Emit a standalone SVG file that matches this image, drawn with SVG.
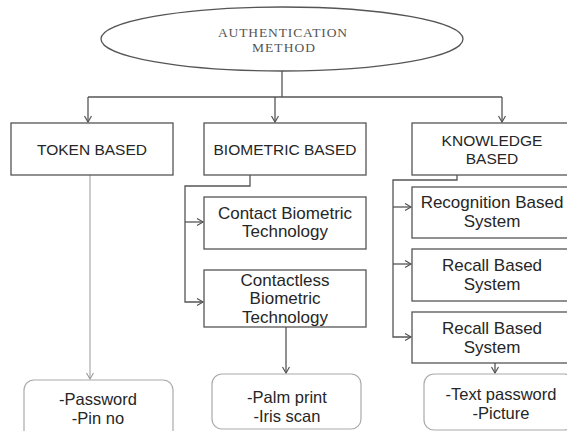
<svg xmlns="http://www.w3.org/2000/svg" width="567" height="431" viewBox="0 0 567 431">
<defs>
<style>
.box{fill:#fff;stroke:#555;stroke-width:1.3}
.rbox{fill:#fff;stroke:#aaa;stroke-width:1.2}
.t{font-family:"Liberation Sans",Arial,sans-serif;font-size:17px;fill:#262626;text-anchor:middle}
.c{font-size:15.5px}
.b{font-size:16.5px}
.s{font-family:"Liberation Serif","Times New Roman",serif;font-size:13.5px;fill:#555;text-anchor:middle}
.ln{fill:none;stroke:#555;stroke-width:1.3}
.lg{fill:none;stroke:#999;stroke-width:1}
</style>
<marker id="a" markerWidth="10" markerHeight="10" refX="7" refY="4" orient="auto" markerUnits="userSpaceOnUse">
<path d="M1,0.5 L7,4 L1,7.5" fill="none" stroke="#555" stroke-width="1.2"/>
</marker>
<marker id="ag" markerWidth="10" markerHeight="10" refX="7" refY="4" orient="auto" markerUnits="userSpaceOnUse">
<path d="M1,0.5 L7,4 L1,7.5" fill="none" stroke="#999" stroke-width="1.1"/>
</marker>
</defs>
<rect width="567" height="431" fill="#fff"/>
<g id="connectors">
<path class="ln" d="M282,71 V97"/>
<path class="ln" d="M88,97 H502"/>
<path class="ln" d="M88,97 V122" marker-end="url(#a)"/>
<path class="ln" d="M275,97 V122" marker-end="url(#a)"/>
<path class="ln" d="M502,97 V122" marker-end="url(#a)"/>
<path class="lg" d="M90,175 V379" marker-end="url(#ag)"/>
<path class="ln" d="M250,175 V186 H185 V302 H203" marker-end="url(#a)"/>
<path class="ln" d="M185,222 H203" marker-end="url(#a)"/>
<path class="ln" d="M286,327 V373" marker-end="url(#a)"/>
<path class="ln" d="M457,175 V180 H393 V337 H411" marker-end="url(#a)"/>
<path class="ln" d="M393,207 H411" marker-end="url(#a)"/>
<path class="ln" d="M393,264 H411" marker-end="url(#a)"/>
<path class="ln" d="M495,363 V373" marker-end="url(#a)"/>
</g>
<g id="auth">
<ellipse cx="282" cy="39" rx="181" ry="32" fill="#fff" stroke="#555" stroke-width="1.3"/>
<text class="s" x="282.5" y="37" textLength="129">AUTHENTICATION</text>
<text class="s" x="283.5" y="52" textLength="63">METHOD</text>
</g>
<g id="token">
<rect class="box" x="11" y="123" width="162" height="52"/>
<text class="t c" x="92" y="155">TOKEN BASED</text>
</g>
<g id="biometric">
<rect class="box" x="204" y="123" width="162" height="52"/>
<text class="t c" x="285" y="155">BIOMETRIC BASED</text>
</g>
<g id="knowledge">
<rect class="box" x="412" y="123" width="160" height="52"/>
<text class="t c" x="492" y="146">KNOWLEDGE</text>
<text class="t c" x="492" y="164">BASED</text>
</g>
<g id="contact">
<rect class="box" x="204" y="197" width="162" height="52"/>
<text class="t" x="285" y="219">Contact Biometric</text>
<text class="t" x="285" y="237">Technology</text>
</g>
<g id="contactless">
<rect class="box" x="204" y="270" width="162" height="57"/>
<text class="t" x="285" y="286">Contactless</text>
<text class="t" x="285" y="304">Biometric</text>
<text class="t" x="285" y="323">Technology</text>
</g>
<g id="recognition">
<rect class="box" x="412" y="187" width="160" height="51"/>
<text class="t" x="492" y="208">Recognition Based</text>
<text class="t" x="492" y="227">System</text>
</g>
<g id="recall1">
<rect class="box" x="412" y="249" width="160" height="52"/>
<text class="t" x="492" y="271">Recall Based</text>
<text class="t" x="492" y="290">System</text>
</g>
<g id="recall2">
<rect class="box" x="412" y="312" width="160" height="51"/>
<text class="t" x="492" y="334">Recall Based</text>
<text class="t" x="492" y="353">System</text>
</g>
<g id="password">
<rect class="rbox" x="24" y="380" width="149" height="60" rx="10"/>
<text class="t b" x="98" y="405">-Password</text>
<text class="t b" x="98" y="424">-Pin no</text>
</g>
<g id="palm">
<rect class="rbox" x="212" y="374" width="149" height="55" rx="10"/>
<text class="t b" x="287" y="403">-Palm print</text>
<text class="t b" x="287" y="422">-Iris scan</text>
</g>
<g id="textpw">
<rect class="rbox" x="424" y="374" width="150" height="56" rx="10"/>
<text class="t b" x="501" y="400">-Text password</text>
<text class="t b" x="501" y="419">-Picture</text>
</g>
</svg>
